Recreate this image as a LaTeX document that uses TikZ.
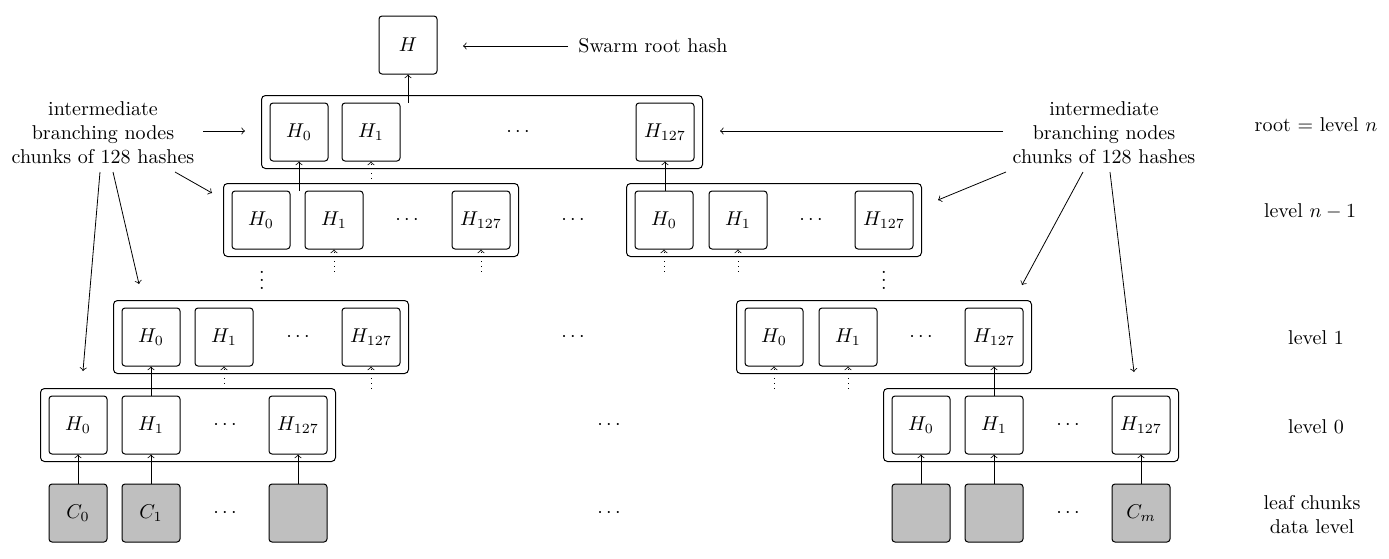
\documentclass[tikz,border=0pt]{standalone}
\usetikzlibrary{fit,calc}
\begin{document}
\begin{tikzpicture}[x=0.5pt,y=-0.5pt,
  hbox/.style={draw,line width=0.5pt,rounded corners=1.5pt,minimum size=29pt,inner sep=0pt},
  leaf/.style={hbox,fill=black!25},
  row/.style={draw,line width=0.5pt,rounded corners=2pt,inner xsep=4pt,inner ysep=3.5pt},
  lbl/.style={align=center,inner sep=0pt},
  vd/.style={inner sep=0pt},
  ann/.style={->},
  up/.style={->},
  dup/.style={->,dotted}]
\useasboundingbox (0,0) rectangle (1389,558);
% root hash
\node[hbox] (H) at (408,45) {$H$};
\node[lbl] (swarm) at (653,46) {Swarm root hash};
\coordinate (swA) at (568,46);
\coordinate (swB) at (463,46);
\draw[ann] (swA) -- (swB);
% root row
\node[hbox] (r0) at (299,132) {$H_0$};
\node[hbox] (r1) at (371,132) {$H_1$};
\node (rd) at (518,132) {$\cdots$};
\node[hbox] (r127) at (665,132) {$H_{127}$};
\node[row,fit=(r0)(r127)] (rrow) {};
% level n-1
\node[hbox] (L0) at (261,220) {$H_0$};
\node[hbox] (L1) at (334,220) {$H_1$};
\node (Ld) at (407,220) {$\cdots$};
\node[hbox] (L127) at (481,220) {$H_{127}$};
\node[row,fit=(L0)(L127)] (Lrow) {};
\node (md1) at (573,220) {$\cdots$};
\node[hbox] (R0) at (664,220) {$H_0$};
\node[hbox] (R1) at (738,220) {$H_1$};
\node (Rd) at (811,220) {$\cdots$};
\node[hbox] (R127) at (884,220) {$H_{127}$};
\node[row,fit=(R0)(R127)] (Rrow) {};
\node[vd] (Lv) at (262,274) {$\vdots$};
\node[vd] (Rv) at (884,274) {$\vdots$};
% level 1
\node[hbox] (a0) at (151,337) {$H_0$};
\node[hbox] (a1) at (224,337) {$H_1$};
\node (ad) at (298,337) {$\cdots$};
\node[hbox] (a127) at (371,337) {$H_{127}$};
\node[row,fit=(a0)(a127)] (arow) {};
\node (md2) at (573,337) {$\cdots$};
\node[hbox] (b0) at (774,337) {$H_0$};
\node[hbox] (b1) at (848,337) {$H_1$};
\node (bd) at (921,337) {$\cdots$};
\node[hbox] (b127) at (994,337) {$H_{127}$};
\node[row,fit=(b0)(b127)] (brow) {};
% level 0
\node[hbox] (c0) at (78,425) {$H_0$};
\node[hbox] (c1) at (151,425) {$H_1$};
\node (cd) at (225,425) {$\cdots$};
\node[hbox] (c127) at (298,425) {$H_{127}$};
\node[row,fit=(c0)(c127)] (crow) {};
\node (md3) at (609,425) {$\cdots$};
\node[hbox] (d0) at (921,425) {$H_0$};
\node[hbox] (d1) at (994,425) {$H_1$};
\node (dd) at (1068,425) {$\cdots$};
\node[hbox] (d127) at (1141,425) {$H_{127}$};
\node[row,fit=(d0)(d127)] (drow) {};
% leaves
\node[leaf] (e0) at (78,513) {$C_0$};
\node[leaf] (e1) at (151,513) {$C_1$};
\node (ed) at (225,513) {$\cdots$};
\node[leaf] (e2) at (298,513) {};
\node (md4) at (609,513) {$\cdots$};
\node[leaf] (f0) at (921,513) {};
\node[leaf] (f1) at (994,513) {};
\node (fd) at (1068,513) {$\cdots$};
\node[leaf] (fm) at (1141,513) {$C_m$};
% solid arrows
\draw[up] (H.south |- r1.north) -- (H.south);
\draw[up] (r0.south |- L1.north) -- (r0.south);
\draw[up] (r127.south |- R0.north) -- (r127.south);
\draw[up] (c1.north) -- (a0.south);
\draw[up] (d1.north) -- (b127.south);
\draw[up] (e0) -- (c0);
\draw[up] (e1) -- (c1);
\draw[up] (e2) -- (c127);
\draw[up] (f0) -- (d0);
\draw[up] (f1) -- (d1);
\draw[up] (fm) -- (d127);
% dotted arrows
\foreach \n in {r1,L1,L127,R0,R1,a1,a127,b0,b1}
  \draw[dup] ([yshift=-11pt]\n.south) -- (\n.south);
% left annotation
\node[lbl] (labL) at (103,133) {intermediate\\branching nodes\\chunks of 128 hashes};
\coordinate (lA1) at (203,131); \coordinate (lB1) at (245,131);
\coordinate (lA2) at (175,172); \coordinate (lB2) at (212,193);
\coordinate (lA3) at (113,172); \coordinate (lB3) at (139,284);
\coordinate (lA4) at (100,172); \coordinate (lB4) at (83,371);
\draw[ann] (lA1) -- (lB1);
\draw[ann] (lA2) -- (lB2);
\draw[ann] (lA3) -- (lB3);
\draw[ann] (lA4) -- (lB4);
% right annotation
\node[lbl] (labR) at (1104,133) {intermediate\\branching nodes\\chunks of 128 hashes};
\coordinate (rA1) at (1003,131); \coordinate (rB1) at (720,131);
\coordinate (rA2) at (1006,172); \coordinate (rB2) at (938,200);
\coordinate (rA3) at (1083,172); \coordinate (rB3) at (1022,285);
\coordinate (rA4) at (1110,172); \coordinate (rB4) at (1134,372);
\draw[ann] (rA1) -- (rB1);
\draw[ann] (rA2) -- (rB2);
\draw[ann] (rA3) -- (rB3);
\draw[ann] (rA4) -- (rB4);
% level labels
\node[lbl] (lv0) at (1316,125) {root $=$ level $n$};
\node[lbl] (lv1) at (1310,211) {level $n-1$};
\node[lbl] (lv2) at (1316,338) {level 1};
\node[lbl] (lv3) at (1316,427) {level 0};
\node[lbl] (lv4) at (1312,515) {leaf chunks\\data level};
\end{tikzpicture}
\end{document}
